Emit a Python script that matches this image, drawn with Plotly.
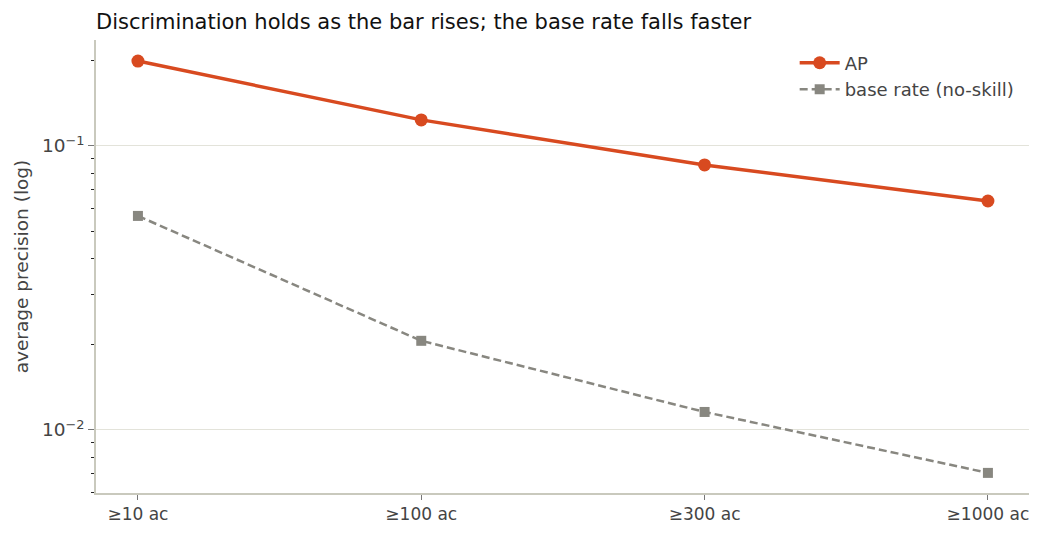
import plotly.graph_objects as go

# thresholds and scores
categories = ["≥10 ac", "≥100 ac", "≥300 ac", "≥1000 ac"]
ap_values = [0.199, 0.1235, 0.0857, 0.0640]
base_rate = [0.0567, 0.0206, 0.01157, 0.00706]

major_ticks = [0.01, 0.1]
major_labels = ["10<sup>−2</sup>", "10<sup>−1</sup>"]
minor_ticks = [m * 10 ** e for e in (-3, -2, -1) for m in range(2, 10)]

AXIS_COLOR = "#c9c9bd"
TEXT_COLOR = "#444444"

# page has an 8px body margin, so the figure is a bit smaller than the window
W, H = 1035, 531

fig = go.Figure()

fig.add_trace(go.Scatter(
    x=categories, y=ap_values, name="AP",
    mode="lines+markers",
    line=dict(color="#d84a20", width=3.5),
    marker=dict(symbol="circle", size=13, color="#d84a20"),
))

fig.add_trace(go.Scatter(
    x=categories, y=base_rate, name="base rate (no-skill)",
    mode="lines+markers",
    line=dict(color="#888780", width=2.5, dash="8px,4px"),
    marker=dict(symbol="square", size=10, color="#888780"),
))

fig.update_layout(
    width=W, height=H,
    margin=dict(l=88, r=14, t=32, b=46),
    paper_bgcolor="white", plot_bgcolor="white",
    font=dict(family="DejaVu Sans", size=17, color=TEXT_COLOR),
    title=dict(
        text="Discrimination holds as the bar rises; the base rate falls faster",
        x=88 / W, xanchor="left", y=1 - 14 / H, yanchor="middle",
        font=dict(size=21, color="#111111"),
    ),
    legend=dict(
        x=0.99, xanchor="right", y=0.99, yanchor="top",
        bgcolor="rgba(255,255,255,0)", font=dict(size=18, color=TEXT_COLOR),
        itemwidth=40, tracegroupgap=0,
    ),
    showlegend=True,
)

fig.update_xaxes(
    type="category", range=[-0.148, 3.145],
    showline=True, linecolor=AXIS_COLOR, linewidth=1.5,
    ticks="outside", ticklen=5, tickcolor="#777777",
    showgrid=False, zeroline=False,
    tickfont=dict(size=17, color=TEXT_COLOR),
)

fig.update_yaxes(
    type="log", range=[-2.222, -0.627],
    title=dict(text="average precision (log)", font=dict(size=18.5, color=TEXT_COLOR), standoff=8),
    showline=True, linecolor=AXIS_COLOR, linewidth=1.5,
    tickmode="array", tickvals=major_ticks, ticktext=major_labels,
    ticks="outside", ticklen=6, tickcolor="#777777",
    showgrid=True, gridcolor="#e3e3da", gridwidth=1,
    zeroline=False,
    tickfont=dict(size=18.5, color=TEXT_COLOR),
    minor=dict(tickmode="array", tickvals=minor_ticks, ticks="outside",
               ticklen=3, tickcolor="#222222", showgrid=False),
)

fig.write_html("out.html")
